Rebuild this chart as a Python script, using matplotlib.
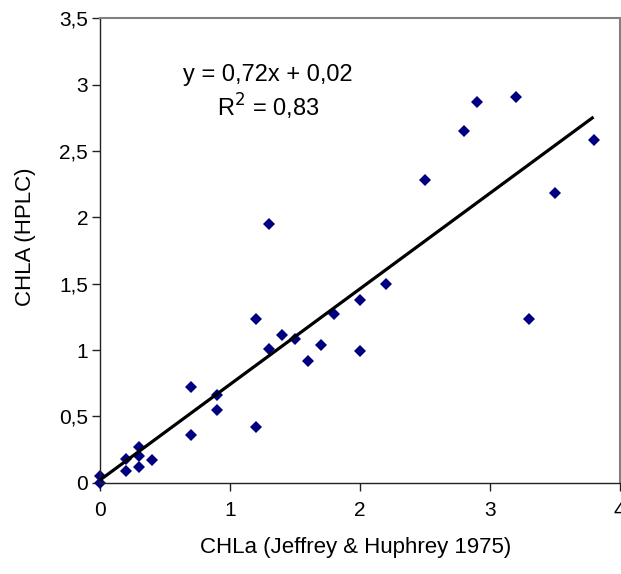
import matplotlib
matplotlib.use("Agg")
import numpy as np
import matplotlib.pyplot as plt
from matplotlib.ticker import FuncFormatter, MultipleLocator

plt.rcParams["font.family"] = ["Liberation Sans", "DejaVu Sans"]

# CHLa (Jeffrey & Humphrey) vs CHLA (HPLC)
chla_jh = [0.0, 0.0, 0.2, 0.2, 0.3, 0.3, 0.3, 0.4, 0.7, 0.7,
           0.9, 0.9, 1.2, 1.2, 1.3, 1.3, 1.4, 1.5, 1.6, 1.7,
           1.8, 2.0, 2.0, 2.2, 2.5, 2.8, 2.9, 3.2, 3.3, 3.5, 3.8]
chla_hplc = [0.05, 0.0, 0.18, 0.09, 0.27, 0.20, 0.12, 0.17, 0.72, 0.36,
             0.66, 0.55, 1.23, 0.42, 1.95, 1.01, 1.11, 1.08, 0.92, 1.04,
             1.27, 1.38, 0.99, 1.50, 2.28, 2.65, 2.87, 2.91, 1.23, 2.18, 2.58]

# trendline as printed on the chart
slope = 0.72
intercept = 0.02
r2 = 0.83

W, H = 621, 574
fig = plt.figure(figsize=(W / 100, H / 100), dpi=100)
# plot area in pixels: left 100, right 619.5, top 18.3, bottom 482.7
ax = fig.add_axes([100 / W, 1 - 482.7 / H, 519.5 / W, (482.7 - 18.3) / H])

x = np.array(chla_jh)
xl = np.array([x.min(), x.max()])
ax.plot(xl, slope * xl + intercept, color="black", lw=2.3, zorder=3,
        solid_capstyle="butt")
ax.plot(chla_jh, chla_hplc, linestyle="none", marker="D", markersize=6.5,
        color="#000080", markeredgewidth=0, zorder=2, clip_on=False)

ax.set_xlim(0, 4)
ax.set_ylim(0, 3.5)
ax.xaxis.set_major_locator(MultipleLocator(1))
ax.yaxis.set_major_locator(MultipleLocator(0.5))
comma = FuncFormatter(lambda v, p: f"{v:g}".replace(".", ","))
ax.xaxis.set_major_formatter(comma)
ax.yaxis.set_major_formatter(comma)

for s in ("left", "bottom"):
    ax.spines[s].set_color("#222222")
    ax.spines[s].set_linewidth(1.0)
for s in ("top", "right"):
    ax.spines[s].set_color("#808080")
    ax.spines[s].set_linewidth(1.5)

ax.tick_params(direction="out", length=5.5, width=1, color="#222222",
               labelsize=15)
ax.tick_params(axis="x", pad=8)
ax.tick_params(axis="y", pad=3)

ax.set_xlabel("CHLa (Jeffrey & Huphrey 1975)", fontsize=16, va="center")
ax.set_ylabel("CHLA (HPLC)", fontsize=16, va="center")
ax.xaxis.set_label_coords((356 - 100) / 519.5, -(548 - 482.7) / 464.4)
ax.yaxis.set_label_coords((26 - 100) / 519.5, (482.7 - 237) / 464.4)

eq = f"y = {slope:.2f}x + {intercept:.2f}".replace(".", ",")
fig.text(268 / W, 1 - 75 / H, eq, ha="center", va="center", fontsize=17)
fig.text(268 / W, 1 - 107 / H, f"R$^2$ = {r2:.2f}".replace(".", ","),
         ha="center", va="center", fontsize=17)

fig.savefig("out.png", dpi=100, facecolor="white")
